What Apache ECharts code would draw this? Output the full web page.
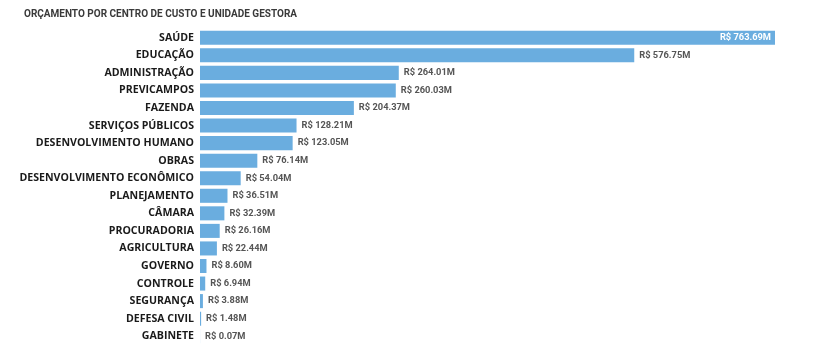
<!DOCTYPE html>
<html><head><meta charset="utf-8">
<script src="https://cdn.jsdelivr.net/npm/echarts@6/dist/echarts.min.js"></script>
<style>html,body{margin:0;padding:0;background:#fff}#c{width:813px;height:349px}</style>
</head><body><div id="c"></div>
<script>
const title = 'ORÇAMENTO POR CENTRO DE CUSTO E UNIDADE GESTORA';
const categories = ['SAÚDE','EDUCAÇÃO','ADMINISTRAÇÃO','PREVICAMPOS','FAZENDA','SERVIÇOS PÚBLICOS','DESENVOLVIMENTO HUMANO','OBRAS','DESENVOLVIMENTO ECONÔMICO','PLANEJAMENTO','CÂMARA','PROCURADORIA','AGRICULTURA','GOVERNO','CONTROLE','SEGURANÇA','DEFESA CIVIL','GABINETE'];
const values = [763.69,576.75,264.01,260.03,204.37,128.21,123.05,76.14,54.04,36.51,32.39,26.16,22.44,8.60,6.94,3.88,1.48,0.07];

const chart = echarts.init(document.getElementById('c'));
chart.setOption({
  animation:false,
  title:{text:title,left:19,top:4,textStyle:{fontFamily:'Roboto',fontSize:10,fontWeight:'bold',color:'#3a3a3a'}},
  grid:{left:200,right:38,top:29,bottom:4,containLabel:false},
  xAxis:{type:'value',min:0,max:763.69,show:false},
  yAxis:{type:'category',data:categories,inverse:true,
    axisLine:{show:false},axisTick:{show:false},
    axisLabel:{margin:6,fontFamily:'Open Sans',fontWeight:'bold',fontSize:10.6,color:'#1a1a1a'}},
  series:[{type:'bar',barCategoryGap:'20%',
    data:values.map((v,i)=>i===0?{value:v,label:{position:'insideRight',color:'#fff',distance:4}}:v),
    itemStyle:{color:'#6aaddf'},
    label:{show:true,position:'right',distance:5,fontFamily:'Roboto',fontWeight:'bold',fontSize:9.3,color:'#555',
      formatter:p=>'R$ '+p.value.toFixed(2)+'M'}}]
});
</script></body></html>
